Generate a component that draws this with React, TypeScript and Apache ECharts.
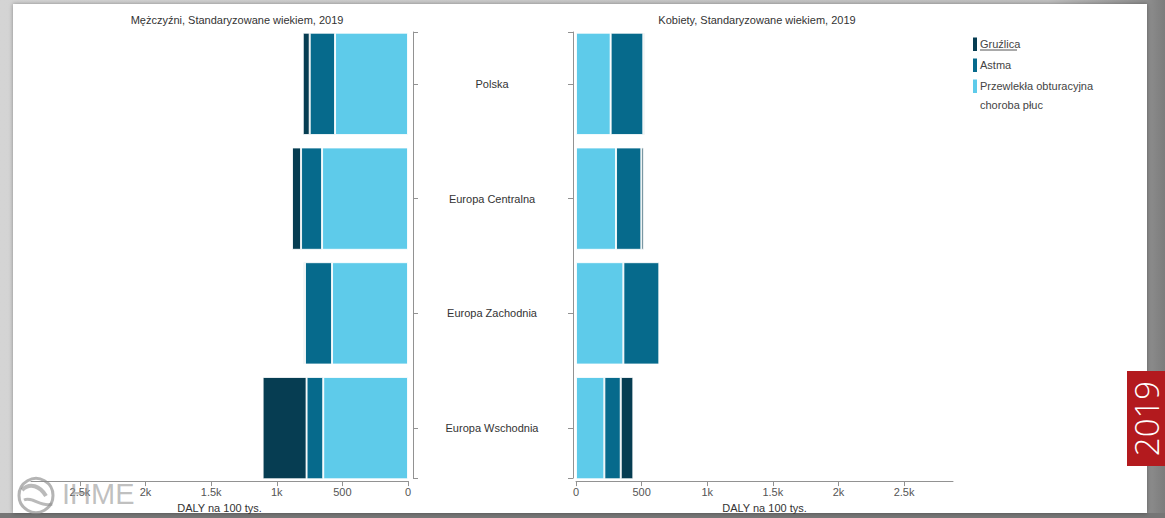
import React, { useEffect, useRef } from "react";
import * as echarts from "echarts";

const categories = ["Polska", "Europa Centralna", "Europa Zachodnia", "Europa Wschodnia"];
const seriesNames = ["Gruźlica", "Astma", "Przewlekła obturacyjna choroba płuc"];
const legendLines = [["Gruźlica"], ["Astma"], ["Przewlekła obturacyjna", "choroba płuc"]];
const seriesColors = ["#063d52", "#066a8c", "#5ecbea"];

const menTb = [53, 69, 12, 335];
const menAstma = [193, 160, 206, 127];
const menCopd = [556, 655, 579, 646];

const womenTb = [10, 18, 5, 96];
const womenAstma = [249, 193, 274, 125];
const womenCopd = [264, 305, 361, 216];

const axisMax = 2873;
const tickInterval = 500;
const titles = ["Mężczyźni, Standaryzowane wiekiem, 2019", "Kobiety, Standaryzowane wiekiem, 2019"];
const axisName = "DALY na 100 tys.";
const badgeText = "2019";
const logoText = "IHME";

const FONT = "Liberation Sans, Arial, sans-serif";

function fmt(v: number): string {
  if (v === 0) return "0";
  if (v < 1000) return String(v);
  return v / 1000 + "k";
}

export default function App() {
  const ref = useRef<HTMLDivElement>(null);
  useEffect(() => {
    if (!ref.current) return;
    const chart = echarts.init(ref.current, undefined, { renderer: "svg" });

    const axisColor = "#929292";
    const barGrids = [
      { left: 31, width: 377, top: 26.5, height: 459 },
      { left: 576, width: 377, top: 26.5, height: 459 },
    ];
    const decoGrids = [
      { left: 31, width: 377, top: 32, height: 448 },
      { left: 576, width: 377, top: 32, height: 448 },
    ];

    const xAxes: any[] = [];
    const yAxes: any[] = [];
    // bar grids (0: men, 1: women)
    [0, 1].forEach((i) => {
      xAxes.push({
        type: "value",
        gridIndex: i,
        min: 0,
        max: axisMax,
        inverse: i === 0,
        show: false,
      });
      yAxes.push({
        type: "category",
        gridIndex: i,
        data: categories,
        inverse: true,
        position: i === 0 ? "right" : "left",
        offset: i === 0 ? 5 : 3,
        axisLine: { show: false, onZero: false },
        axisTick: { show: true, alignWithLabel: true, length: 5, lineStyle: { color: axisColor } },
        axisLabel: {
          show: i === 0,
          margin: 79,
          align: "center",
          color: "#333",
          fontSize: 11,
          fontFamily: FONT,
        },
        splitLine: { show: false },
      });
    });
    // decoration grids (2: men, 3: women)
    [0, 1].forEach((i) => {
      xAxes.push({
        type: "value",
        gridIndex: 2 + i,
        min: 0,
        max: axisMax,
        interval: tickInterval,
        inverse: i === 0,
        position: "bottom",
        offset: 3,
        axisLine: { show: true, onZero: false, lineStyle: { color: axisColor, width: 1 } },
        axisTick: { show: true, length: 5, lineStyle: { color: axisColor } },
        axisLabel: {
          formatter: fmt,
          showMaxLabel: false,
          color: "#555",
          fontSize: 11,
          fontFamily: FONT,
          margin: 5,
        },
        splitLine: { show: false },
        name: axisName,
        nameLocation: "middle",
        nameGap: 18,
        nameTextStyle: { color: "#333", fontSize: 11, fontFamily: FONT },
      });
      yAxes.push({
        type: "value",
        gridIndex: 2 + i,
        min: 0,
        max: 1,
        interval: 1,
        position: i === 0 ? "right" : "left",
        offset: i === 0 ? 5 : 3,
        axisLine: { show: true, onZero: false, lineStyle: { color: axisColor, width: 1 } },
        axisTick: { show: true, length: 5, lineStyle: { color: axisColor } },
        axisLabel: { show: false },
        splitLine: { show: false },
      });
    });

    const mk = (name: string, data: number[], color: string, gi: number, stack: string) => ({
      type: "bar",
      name,
      data,
      stack,
      xAxisIndex: gi,
      yAxisIndex: gi,
      barCategoryGap: "10.8%",
      itemStyle: { color, borderColor: "rgba(255,255,255,0.85)", borderWidth: 1 },
      emphasis: { disabled: true },
    });

    const series = [
      mk(seriesNames[2], menCopd, seriesColors[2], 0, "m"),
      mk(seriesNames[1], menAstma, seriesColors[1], 0, "m"),
      mk(seriesNames[0], menTb, seriesColors[0], 0, "m"),
      mk(seriesNames[2], womenCopd, seriesColors[2], 1, "f"),
      mk(seriesNames[1], womenAstma, seriesColors[1], 1, "f"),
      mk(seriesNames[0], womenTb, seriesColors[0], 1, "f"),
    ];

    const legendGraphics: any[] = [];
    let y = 44;
    legendLines.forEach((lines, i) => {
      legendGraphics.push({
        type: "rect",
        shape: { x: 973, y: y - 6.5, width: 4, height: 13.5 },
        style: { fill: seriesColors[i] },
        z: 50,
      });
      lines.forEach((ln, j) => {
        legendGraphics.push({
          type: "text",
          x: 980,
          y: y + j * 18.5,
          style: {
            text: ln,
            fill: "#444",
            font: `11px ${FONT}`,
            textVerticalAlign: "middle",
            verticalAlign: "middle",
          },
          z: 50,
        });
      });
      if (i === 0) {
        legendGraphics.push({
          type: "line",
          shape: { x1: 980, y1: 50, x2: 1017, y2: 50 },
          style: { stroke: "#555", lineWidth: 1 },
          z: 50,
        });
      }
      y += 21;
    });

    const option: any = {
      animation: false,
      backgroundColor: new echarts.graphic.LinearGradient(0, 0, 1, 0, [
        { offset: 0, color: "#d4d4d4" },
        { offset: 0.9, color: "#c0c0c0" },
        { offset: 0.985, color: "#8e8e8e" },
        { offset: 1, color: "#7c7c7c" },
      ]),
      title: [
        {
          text: titles[0],
          left: 232,
          top: 9,
          textAlign: "center",
          textStyle: { fontSize: 11, fontWeight: "normal", color: "#333", fontFamily: FONT },
        },
        {
          text: titles[1],
          left: 752,
          top: 9,
          textAlign: "center",
          textStyle: { fontSize: 11, fontWeight: "normal", color: "#333", fontFamily: FONT },
        },
      ],
      grid: [...barGrids, ...decoGrids].map((g) => ({ ...g, containLabel: false })),
      xAxis: xAxes,
      yAxis: yAxes,
      series,
      graphic: [
        {
          type: "rect",
          shape: { x: 0, y: 513, width: 1165, height: 5 },
          style: { fill: "#767676" },
          z: -20,
        },
        {
          type: "rect",
          shape: { x: 13, y: 4, width: 1134, height: 509 },
          style: {
            fill: "#ffffff",
            shadowBlur: 4,
            shadowColor: "rgba(0,0,0,0.35)",
          },
          z: -10,
        },
        ...legendGraphics,
        {
          type: "circle",
          shape: { cx: 36, cy: 495.5, r: 17 },
          style: { fill: "none", stroke: "rgba(140,140,140,0.65)", lineWidth: 3 },
          z: 60,
        },
        {
          type: "bezierCurve",
          shape: { x1: 22, y1: 490, x2: 46, y2: 496, cpx1: 30, cpy1: 482, cpx2: 40, cpy2: 486 },
          style: { fill: "none", stroke: "rgba(140,140,140,0.6)", lineWidth: 4 },
          z: 60,
        },
        {
          type: "bezierCurve",
          shape: { x1: 24, y1: 500, x2: 52, y2: 504, cpx1: 32, cpy1: 496, cpx2: 42, cpy2: 508 },
          style: { fill: "none", stroke: "rgba(140,140,140,0.6)", lineWidth: 3 },
          z: 60,
        },
        {
          type: "text",
          x: 62,
          y: 494,
          style: {
            text: logoText,
            fill: "rgba(150,150,150,0.6)",
            font: `29px ${FONT}`,
            verticalAlign: "middle",
            textVerticalAlign: "middle",
          },
          z: 60,
        },
        {
          type: "rect",
          shape: { x: 1127, y: 371, width: 38, height: 95 },
          style: { fill: "#b31a1e" },
          z: 70,
        },
        {
          type: "text",
          x: 1146,
          y: 418.5,
          rotation: Math.PI / 2,
          style: {
            text: badgeText,
            fill: "#ffffff",
            font: `300 33px "Open Sans", ${FONT}`,
            align: "center",
            verticalAlign: "middle",
            textAlign: "center",
            textVerticalAlign: "middle",
          },
          z: 71,
        },
      ],
    };
    chart.setOption(option);
    return () => chart.dispose();
  }, []);
  return (
    <div
      ref={ref}
      style={{ position: "fixed", left: 0, top: 0, width: 1165, height: 518 }}
    />
  );
}
